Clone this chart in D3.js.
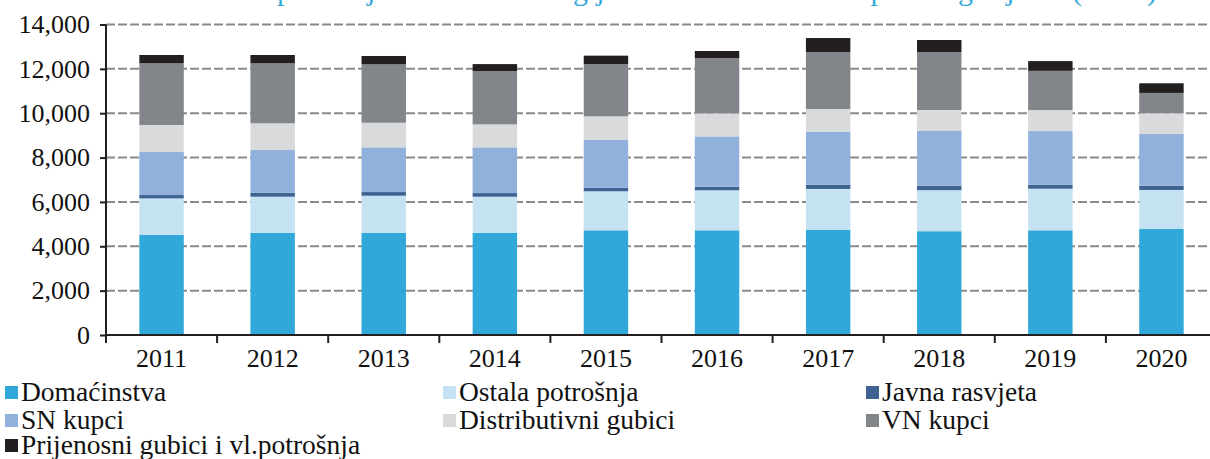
<!DOCTYPE html>
<html>
<head>
<meta charset="utf-8">
<script src="https://cdn.jsdelivr.net/npm/d3@7/dist/d3.min.js"></script>
<style>
  html, body { margin: 0; padding: 0; background: #fff; }
  svg { display: block; }
  text { font-family: "Liberation Serif", "Times New Roman", serif; }
</style>
</head>
<body>
<svg id="chart" width="1210" height="459"></svg>
<script>
const years = ["2011","2012","2013","2014","2015","2016","2017","2018","2019","2020"];
const seriesNames = ["Domaćinstva","Ostala potrošnja","Javna rasvjeta","SN kupci","Distributivni gubici","VN kupci","Prijenosni gubici i vl.potrošnja"];
const domacinstva   = [4520, 4610, 4610, 4610, 4720, 4720, 4750, 4680, 4720, 4780];
const ostala        = [1640, 1625, 1670, 1625, 1760, 1805, 1835, 1850, 1875, 1760];
const javna         = [150,  180,  165,  165,  160,  160,  195,  205,  180,  195];
const snKupci       = [1940, 1925, 2015, 2060, 2165, 2270, 2390, 2465, 2420, 2330];
const distributivni = [1220, 1205, 1110, 1035, 1055, 1040, 1020, 945,  945,  935];
const vnKupci       = [2780, 2705, 2635, 2405, 2360, 2495, 2570, 2615, 1770, 915];
const prijenosni    = [375,  375,  375,  315,  375,  315,  630,  540,  440,  435];
const yTicks = [0, 2000, 4000, 6000, 8000, 10000, 12000, 14000];
const colors = ["#31a8da","#c5e2f3","#3d6393","#90b1dc","#d9dadc","#828589","#231f20"];
const titleText = "Struktura potrošnje električne energije na nivou Crne Gore po kategorijama (GWh)";

const seriesValues = [domacinstva, ostala, javna, snKupci, distributivni, vnKupci, prijenosni];
const keys = seriesNames;
const table = years.map((y, i) => {
  const row = { year: y };
  keys.forEach((k, j) => row[k] = seriesValues[j][i]);
  return row;
});
const stacked = d3.stack().keys(keys)(table);

const svg = d3.select("#chart");
const x0 = 106, x1 = 1217, yTop = 24.5, yBottom = 335;
const x = d3.scaleBand().domain(years).range([x0, x1]).padding(0);
const y = d3.scaleLinear().domain([0, 14000]).range([yBottom, yTop]);
const barW = x.step() * 0.4;

// title (mostly cut off at top of the picture)
svg.append("text")
  .attr("x", 1157).attr("y", 0)
  .attr("text-anchor", "end")
  .attr("fill", "#31a8da")
  .style("font-size", "30px")
  .text(titleText);

// gridlines
svg.append("g").selectAll("line")
  .data(yTicks.filter(d => d > 0))
  .join("line")
  .attr("x1", x0).attr("x2", 1210)
  .attr("y1", d => y(d)).attr("y2", d => y(d))
  .attr("stroke", "#8a8a8a")
  .attr("stroke-width", 2)
  .attr("stroke-dasharray", "9,3");

// bars
svg.append("g").selectAll("g")
  .data(stacked)
  .join("g")
  .attr("fill", (d, i) => colors[i])
  .selectAll("rect")
  .data(d => d)
  .join("rect")
  .attr("x", d => x(d.data.year) + (x.step() - barW) / 2)
  .attr("width", barW)
  .attr("y", d => y(d[1]))
  .attr("height", d => y(d[0]) - y(d[1]));

// y axis
const yAxis = svg.append("g")
  .attr("transform", `translate(${x0},0)`)
  .call(d3.axisLeft(y).tickValues(yTicks).tickFormat(d3.format(",")).tickSize(6).tickPadding(10));
yAxis.select(".domain").attr("stroke", "#231f20").attr("stroke-width", 2).attr("d", `M0,${yTop}V${yBottom}`);
yAxis.selectAll(".tick line").attr("stroke", "#231f20").attr("stroke-width", 2);
yAxis.selectAll(".tick text").attr("fill", "#111").style("font-size", "26px").style("font-family", "Liberation Serif");

// x axis
const xAxis = svg.append("g")
  .attr("transform", `translate(0,${yBottom})`)
  .call(d3.axisBottom(x).tickSize(0).tickPadding(14));
xAxis.select(".domain").attr("stroke", "#231f20").attr("stroke-width", 2).attr("d", `M${x0},0H1210`);
xAxis.selectAll(".tick text").attr("fill", "#111").style("font-size", "26px").style("font-family", "Liberation Serif");
// boundary ticks
svg.append("g").selectAll("line")
  .data(years.map(yv => x(yv)).concat([x1]))
  .join("line")
  .attr("x1", d => d).attr("x2", d => d)
  .attr("y1", yBottom).attr("y2", yBottom + 8)
  .attr("stroke", "#231f20").attr("stroke-width", 2);

// legend
const legCols = [5, 443, 866];
const legRows = [393, 421, 446];
const legend = svg.append("g").selectAll("g")
  .data(seriesNames)
  .join("g")
  .attr("transform", (d, i) => `translate(${legCols[i % 3]},${legRows[Math.floor(i / 3)]})`);
legend.append("rect")
  .attr("x", 0).attr("y", -7).attr("width", 13).attr("height", 13)
  .attr("fill", (d, i) => colors[i]);
legend.append("text")
  .attr("x", 16).attr("y", 8)
  .attr("fill", "#111")
  .style("font-size", "27.5px")
  .text(d => d);
</script>
</body>
</html>
